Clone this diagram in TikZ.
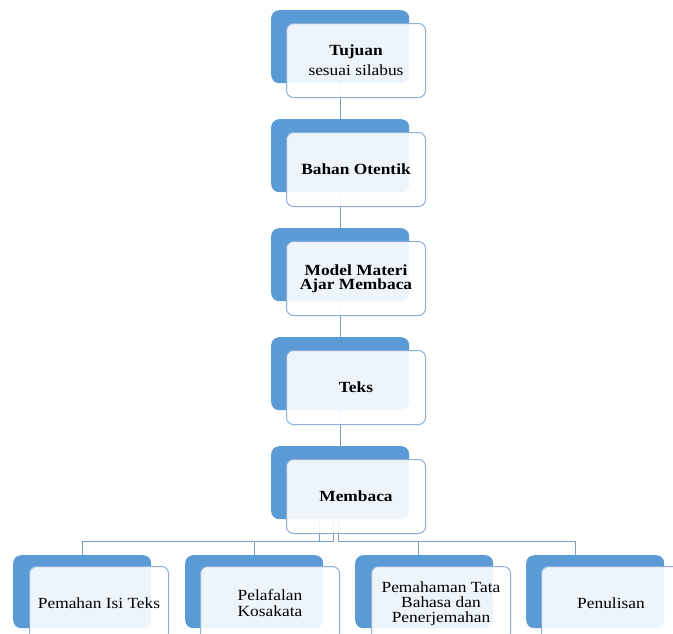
\documentclass[tikz,border=0pt]{standalone}
\usepackage{fontspec}
\setmainfont{Liberation Serif}[FakeStretch=1.12]
\definecolor{sablue}{HTML}{5B9BD5}
\definecolor{frontline}{HTML}{8EAFD6}
\definecolor{connc}{HTML}{7A9CC6}
\newcommand{\boxfont}{\fontsize{15.5}{15}\selectfont}
\begin{document}
\begin{tikzpicture}[x=1pt,y=-1pt,
  back/.style={fill=sablue, draw=none, rounded corners=8pt, minimum width=138pt, minimum height=73pt, anchor=north west, inner sep=0pt},
  front/.style={fill=white, fill opacity=0.9, text opacity=1, draw=frontline, line width=1pt, rounded corners=7pt, minimum width=139pt, minimum height=74pt, anchor=north west, align=center, font=\boxfont, text=black, inner sep=2pt},
  conn/.style={draw=connc, line width=1pt}]
\useasboundingbox (0,0) rectangle (673,633);
\clip (0,0) rectangle (673,633);
\fill[white] (0,0) rectangle (673,633);
\coordinate (hy) at (0,541);
% vertical stack: back boxes
\node[back] (b1) at (271,10) {};
\node[back] (b2) at (271,119) {};
\node[back] (b3) at (271,228) {};
\node[back] (b4) at (271,337) {};
\node[back] (b5) at (271,446) {};
% bottom row: back boxes
\node[back] (c1) at (13,555) {};
\node[back] (c2) at (185,555) {};
\node[back] (c3) at (355,555) {};
\node[back] (c4) at (526,555) {};
% connectors (behind the translucent front boxes)
\draw[conn] (b1.south) -- (b2.north);
\draw[conn] (b2.south) -- (b3.north);
\draw[conn] (b3.south) -- (b4.north);
\draw[conn] (b4.south) -- (b5.north);
\draw[conn] ([xshift=-21pt]b5.south) -- ([xshift=-21pt]b5.south |- hy) -| (c1.north);
\draw[conn] ([xshift=-7pt]b5.south) -- ([xshift=-7pt]b5.south |- hy) -| (c2.north);
\draw[conn] ([xshift=-2pt]b5.south) -- ([xshift=-2pt]b5.south |- hy) -| ([xshift=-6pt]c3.north);
\draw[conn] ([xshift=-2pt]b5.south) -- ([xshift=-2pt]b5.south |- hy) -| ([xshift=-20pt]c4.north);
% front boxes
\node[front] (f1) at (286,23) {\textbf{Tujuan}\\[5pt]sesuai silabus};
\node[front] (f2) at (286,132) {\textbf{Bahan Otentik}};
\node[front] (f3) at (286,241) {\textbf{Model Materi}\\[-1pt]\textbf{Ajar Membaca}};
\node[front] (f4) at (286,350) {\textbf{Teks}};
\node[front] (f5) at (286,459) {\textbf{Membaca}};
\node[front] (g1) at (29,566) {Pemahan Isi Teks};
\node[front] (g2) at (200,566) {Pelafalan\\[1pt]Kosakata};
\node[front] (g3) at (371,566) {Pemahaman Tata\\Bahasa dan\\Penerjemahan};
\node[front] (g4) at (541,566) {Penulisan};
\end{tikzpicture}
\end{document}
